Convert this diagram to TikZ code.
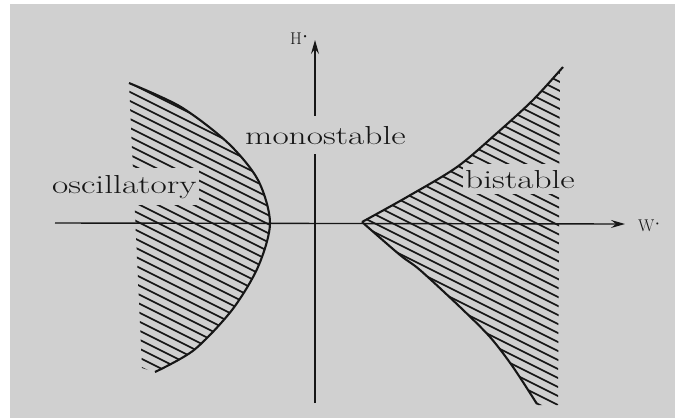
\documentclass[tikz,border=0pt]{standalone}
\usetikzlibrary{arrows.meta}
\definecolor{bg}{RGB}{208,208,208}
\definecolor{ink}{RGB}{22,22,22}
\begin{document}
\begin{tikzpicture}[x=1pt,y=-1pt,
  axis/.style={line width=1.4pt, draw=ink},
  axtip/.style={-{Stealth[length=14pt,width=8pt,inset=5pt]}},
  bound/.style={line width=2.1pt, draw=ink},
  hatchline/.style={line width=1.6pt, draw=ink},
  region/.style={fill=bg, inner xsep=2pt, inner ysep=7pt, font=\fontsize{26}{30}\selectfont, text=ink},
  axlabel/.style={font=\fontsize{17}{20}\selectfont, text=ink, inner sep=0pt}]
\useasboundingbox (0,0) rectangle (675,418);
\fill[white] (0,0) rectangle (675,418);
\fill[bg] (10,4) rectangle (675,418);

% hatching of the oscillatory region
\begin{scope}
\clip plot[smooth] coordinates {(129,83)(181,107)(228,143)(258,180)(270,223)(258,267)(232,310)(194,350)(155,372)} -- (142,368) -- cycle;
\foreach \c in {-405,-396,...,450} \draw[hatchline] (0,\c) -- (700,\c+350);
\end{scope}

% hatching of the bistable region
\begin{scope}
\clip plot[smooth] coordinates {(362,222)(407,197)(457,167)(497,133)(533,100)(560,70)} -- (558,405)
  -- plot[smooth] coordinates {(537,405)(513,367)(490,337)(460,307)(420,270)(400,255)(362,222)} -- cycle;
\foreach \c in {-405,-396,...,450} \draw[hatchline] (0,\c) -- (700,\c+350);
\end{scope}

% axes
\coordinate (xl) at (55,223);
\coordinate (xr) at (625,224);
\coordinate (yb) at (315,403);
\coordinate (yt) at (315,40);
\draw[axis,axtip] (xl) -- (xr);
\draw[axis,axtip] (yb) -- (yt);

% boundaries
\draw[bound] plot[smooth] coordinates {(129,83)(181,107)(228,143)(258,180)(270,223)(258,267)(232,310)(194,350)(155,372)};
\draw[bound] plot[smooth] coordinates {(362,222)(407,197)(457,167)(497,133)(533,100)(563,67)};
\draw[bound] plot[smooth] coordinates {(362,222)(400,255)(420,270)(460,307)(490,337)(513,367)(537,404)};

% region labels
\node[region, anchor=base west] (osc) at (50,193) {\scalebox{1.36}[1]{oscillatory}};
\node[region, anchor=base west, inner ysep=10pt] (mono) at (243,144) {\scalebox{1.36}[1]{monostable}};
\node[region, anchor=base west, inner ysep=6pt] (bi) at (463,188) {\scalebox{1.36}[1]{bistable}};

% axis labels
\node[axlabel, anchor=base west] (hlab) at (290,44) {H\raisebox{6pt}{\fontsize{8}{8}\selectfont\textbullet}};
\node[axlabel, anchor=base west] (wlab) at (638,231) {W\raisebox{6pt}{\fontsize{7}{7}\selectfont\textbullet}};
\end{tikzpicture}
\end{document}
